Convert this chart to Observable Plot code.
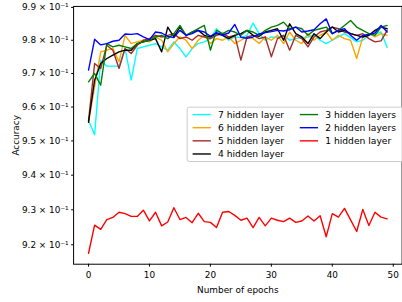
<!DOCTYPE html>
<html>
<head>
<meta charset="utf-8">
<script src="https://cdn.jsdelivr.net/npm/d3@7"></script>
<script src="https://cdn.jsdelivr.net/npm/@observablehq/plot@0.6"></script>
<style>
html, body { margin: 0; padding: 0; overflow: hidden; background: #fff; }
#chart svg { display: block; }
</style>
</head>
<body>
<div id="chart"></div>
<script>
const epochs = [0,1,2,3,4,5,6,7,8,9,10,11,12,13,14,15,16,17,18,19,20,21,22,23,24,25,26,27,28,29,30,31,32,33,34,35,36,37,38,39,40,41,42,43,44,45,46,47,48,49];

const hidden7 = [0.9560,0.9518,0.9740,0.9722,0.9722,0.9722,0.9775,0.9680,0.9775,0.9780,0.9785,0.9790,0.9780,0.9770,0.9795,0.9775,0.9750,0.9775,0.9790,0.9795,0.9805,0.9835,0.9815,0.9800,0.9810,0.9808,0.9815,0.9852,0.9820,0.9800,0.9810,0.9808,0.9815,0.9800,0.9805,0.9808,0.9810,0.9815,0.9800,0.9790,0.9800,0.9810,0.9820,0.9808,0.9795,0.9800,0.9815,0.9818,0.9825,0.9778];
const hidden6 = [0.9555,0.9660,0.9765,0.9770,0.9775,0.9735,0.9815,0.9790,0.9795,0.9800,0.9795,0.9810,0.9800,0.9765,0.9790,0.9810,0.9800,0.9775,0.9800,0.9815,0.9790,0.9805,0.9800,0.9810,0.9790,0.9800,0.9810,0.9805,0.9790,0.9810,0.9800,0.9815,0.9790,0.9825,0.9800,0.9790,0.9820,0.9800,0.9815,0.9825,0.9800,0.9815,0.9805,0.9800,0.9745,0.9810,0.9820,0.9810,0.9820,0.9815];
const hidden5 = [0.9560,0.9730,0.9715,0.9785,0.9770,0.9715,0.9775,0.9760,0.9785,0.9800,0.9805,0.9815,0.9810,0.9815,0.9820,0.9805,0.9810,0.9800,0.9815,0.9810,0.9805,0.9815,0.9820,0.9810,0.9815,0.9740,0.9810,0.9815,0.9805,0.9810,0.9750,0.9805,0.9815,0.9770,0.9815,0.9805,0.9780,0.9810,0.9825,0.9830,0.9840,0.9835,0.9825,0.9820,0.9815,0.9820,0.9805,0.9795,0.9798,0.9830];
const hidden4 = [0.9555,0.9680,0.9730,0.9745,0.9755,0.9765,0.9770,0.9770,0.9790,0.9795,0.9800,0.9805,0.9765,0.9840,0.9810,0.9840,0.9815,0.9825,0.9830,0.9815,0.9810,0.9820,0.9815,0.9805,0.9815,0.9820,0.9830,0.9815,0.9812,0.9825,0.9830,0.9835,0.9800,0.9850,0.9820,0.9810,0.9790,0.9820,0.9805,0.9825,0.9840,0.9825,0.9830,0.9820,0.9815,0.9810,0.9815,0.9830,0.9840,0.9835];
const hidden3 = [0.9675,0.9700,0.9665,0.9790,0.9780,0.9785,0.9780,0.9775,0.9790,0.9795,0.9800,0.9810,0.9815,0.9805,0.9820,0.9845,0.9815,0.9825,0.9835,0.9845,0.9770,0.9830,0.9820,0.9830,0.9825,0.9815,0.9830,0.9825,0.9815,0.9830,0.9840,0.9845,0.9855,0.9835,0.9840,0.9835,0.9815,0.9830,0.9835,0.9840,0.9820,0.9830,0.9845,0.9860,0.9840,0.9830,0.9820,0.9815,0.9840,0.9845];
const hidden2 = [0.9710,0.9803,0.9786,0.9790,0.9797,0.9800,0.9819,0.9818,0.9820,0.9810,0.9802,0.9825,0.9822,0.9812,0.9808,0.9830,0.9815,0.9820,0.9830,0.9825,0.9812,0.9823,0.9816,0.9822,0.9848,0.9809,0.9806,0.9810,0.9819,0.9823,0.9826,0.9830,0.9828,0.9832,0.9840,0.9825,0.9828,0.9832,0.9850,0.9865,0.9820,0.9830,0.9835,0.9815,0.9800,0.9815,0.9818,0.9822,0.9845,0.9825];
const hidden1 = [0.9176,0.9256,0.9244,0.9272,0.9278,0.9293,0.9289,0.9281,0.9281,0.9299,0.9268,0.9293,0.9254,0.9265,0.9306,0.9272,0.9278,0.9263,0.9290,0.9266,0.9264,0.9249,0.9293,0.9295,0.9284,0.9270,0.9276,0.9249,0.9278,0.9254,0.9276,0.9270,0.9266,0.9276,0.9264,0.9268,0.9282,0.9268,0.9283,0.9223,0.9289,0.9279,0.9304,0.9271,0.9238,0.9301,0.9255,0.9293,0.9279,0.9274];

const seriesNames = ["7 hidden layer","6 hidden layer","5 hidden layer","4 hidden layer","3 hidden layers","2 hidden layers","1 hidden layer"];
const seriesValues = [hidden7, hidden6, hidden5, hidden4, hidden3, hidden2, hidden1];
const seriesColors = ["#00ffff","#ffa500","#a52a2a","#000000","#008000","#0000ff","#ff0000"];

const xTicks = [0,10,20,30,40,50];
const yTicks = [0.92,0.93,0.94,0.95,0.96,0.97,0.98,0.99];
const yTickLabels = ["9.2 × 10⁻¹","9.3 × 10⁻¹","9.4 × 10⁻¹","9.5 × 10⁻¹","9.6 × 10⁻¹","9.7 × 10⁻¹","9.8 × 10⁻¹","9.9 × 10⁻¹"];

const lineMarks = seriesValues.map((vals, k) =>
  Plot.line(epochs.map((e, i) => ({epoch: e, acc: vals[i]})),
    {x: "epoch", y: "acc", stroke: seriesColors[k], strokeWidth: 1.4})
);

const chart = Plot.plot({
  width: 407,
  height: 302,
  marginLeft: 74,
  marginRight: 0.4,
  marginTop: 6,
  marginBottom: 35,
  style: {fontFamily: "DejaVu Sans", fontSize: "9px", color: "#000", background: "#fff"},
  x: {domain: [-2.45, 51.45]},
  y: {type: "log", domain: [0.9145, 0.9903]},
  marks: [
    ...lineMarks,
    Plot.frame({stroke: "#000", strokeWidth: 1}),
    Plot.axisX({ticks: xTicks, tickSize: 3, tickPadding: 5, tickFormat: d => String(d),
      label: "Number of epochs", labelAnchor: "center", labelArrow: "none", labelOffset: 29}),
    Plot.axisY({ticks: yTicks, tickSize: 2, tickPadding: 3,
      tickFormat: d => yTickLabels[yTicks.findIndex(t => Math.abs(t - d) < 1e-9)],
      label: "Accuracy", labelAnchor: "center", labelArrow: "none", labelOffset: 62})
  ]
});

document.getElementById("chart").appendChild(chart);

// legend inside the axes (upper part, right side)
const svg = d3.select(chart);
const lg = svg.append("g").attr("font-family", "DejaVu Sans").attr("font-size", "9.3px").attr("text-anchor", "start");
lg.append("rect").attr("x", 189.5).attr("y", 108.5).attr("width", 222).attr("height", 55)
  .attr("rx", 2).attr("fill", "#fff").attr("fill-opacity", 0.8).attr("stroke", "#cccccc").attr("stroke-width", 1);
const rowY = [116, 129.3, 142.6, 155.9];
seriesNames.forEach((name, k) => {
  const col = k < 4 ? 0 : 1;
  const row = k < 4 ? k : k - 4;
  const x0 = col === 0 ? 195 : 303.5;
  const y0 = rowY[row];
  lg.append("line").attr("x1", x0).attr("x2", x0 + 18.5).attr("y1", y0).attr("y2", y0)
    .attr("stroke", seriesColors[k]).attr("stroke-width", 1.4);
  lg.append("text").attr("x", x0 + 25.7).attr("y", y0).attr("dy", "0.35em")
    .attr("text-anchor", "start").attr("fill", "#000").text(name);
});
</script>
</body>
</html>
